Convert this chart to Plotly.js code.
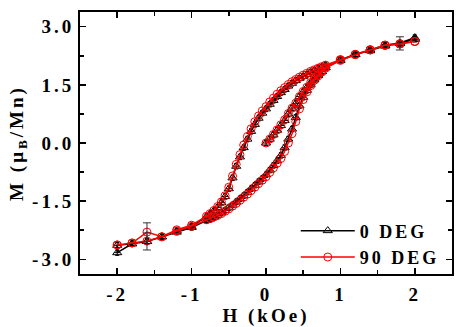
<!DOCTYPE html>
<html>
<head>
<meta charset="utf-8">
<script src="https://cdn.plot.ly/plotly-3.0.1.min.js"></script>
<style>
  body { margin: 0; background: #fff; }
  #plot { width: 463px; height: 327px; }
  .xtick text, .ytick text, .xtitle, .ytitle, .legendtext { letter-spacing: 3px; }
</style>
</head>
<body>
<div id="plot"></div>
<script>
// field values (kOe) for each branch of the loop
const hVirgin = [0, 0.05, 0.1, 0.15, 0.2, 0.25, 0.3, 0.35, 0.4, 0.45, 0.5, 0.55, 0.6, 0.65, 0.7, 0.75, 0.8,
  1.0, 1.2, 1.4, 1.6, 1.8, 2.0];
const hDown = [2.0, 1.8, 1.6, 1.4, 1.2, 1.0,
  0.8, 0.75, 0.7, 0.65, 0.6, 0.55, 0.5, 0.45, 0.4, 0.35, 0.3, 0.25, 0.2, 0.15, 0.1, 0.05, 0,
  -0.05, -0.1, -0.15, -0.2, -0.25, -0.3, -0.35, -0.4, -0.45, -0.5, -0.55, -0.6, -0.65, -0.7, -0.75, -0.8,
  -1.0, -1.2, -1.4, -1.6, -1.8, -2.0];
const hUp = [-2.0, -1.8, -1.6, -1.4, -1.2, -1.0,
  -0.8, -0.75, -0.7, -0.65, -0.6, -0.55, -0.5, -0.45, -0.4, -0.35, -0.3, -0.25, -0.2, -0.15, -0.1, -0.05, 0,
  0.05, 0.1, 0.15, 0.2, 0.25, 0.3, 0.35, 0.4, 0.45, 0.5, 0.55, 0.6, 0.65, 0.7, 0.75, 0.8,
  1.0, 1.2, 1.4, 1.6, 1.8, 2.0];

// magnetisation (muB/Mn), 0 DEG
const m0Virgin = [0.00, 0.10, 0.21, 0.33, 0.45, 0.58, 0.75, 0.90, 1.02, 1.20, 1.32, 1.43, 1.55, 1.66, 1.76, 1.85, 1.95,
  2.14, 2.29, 2.40, 2.52, 2.57, 2.68];
const m0Down = [2.68, 2.57, 2.50, 2.38, 2.28, 2.13,
  2.00, 1.96, 1.92, 1.87, 1.83, 1.77, 1.72, 1.67, 1.61, 1.54, 1.47, 1.38, 1.30, 1.20, 1.10, 1.00, 0.88,
  0.77, 0.64, 0.48, 0.30, 0.10, -0.12, -0.36, -0.60, -0.90, -1.18, -1.38, -1.54, -1.66, -1.75, -1.83, -1.90,
  -2.15, -2.27, -2.42, -2.54, -2.60, -2.83];
const m0Up = [-2.64, -2.60, -2.54, -2.42, -2.30, -2.18,
  -2.00, -1.96, -1.91, -1.86, -1.80, -1.74, -1.67, -1.60, -1.52, -1.44, -1.36, -1.27, -1.18, -1.09, -1.00, -0.92, -0.82,
  -0.70, -0.58, -0.46, -0.32, -0.12, 0.10, 0.36, 0.66, 0.96, 1.18, 1.36, 1.50, 1.63, 1.74, 1.84, 1.94,
  2.14, 2.29, 2.40, 2.52, 2.58, 2.72];

// magnetisation (muB/Mn), 90 DEG
const m90Virgin = [0.00, 0.10, 0.22, 0.34, 0.47, 0.60, 0.76, 0.90, 1.03, 1.20, 1.33, 1.44, 1.56, 1.67, 1.77, 1.86, 1.96,
  2.15, 2.28, 2.41, 2.53, 2.56, 2.62];
const m90Down = [2.62, 2.56, 2.52, 2.40, 2.29, 2.15,
  2.01, 1.97, 1.93, 1.89, 1.85, 1.80, 1.75, 1.70, 1.64, 1.58, 1.51, 1.43, 1.35, 1.26, 1.16, 1.06, 0.94,
  0.83, 0.70, 0.55, 0.37, 0.17, -0.05, -0.30, -0.55, -0.85, -1.14, -1.36, -1.52, -1.64, -1.74, -1.82, -1.89,
  -2.12, -2.24, -2.42, -2.30, -2.58, -2.63];
const m90Up = [-2.63, -2.58, -2.53, -2.42, -2.27, -2.15,
  -1.98, -1.95, -1.91, -1.87, -1.82, -1.76, -1.70, -1.63, -1.56, -1.48, -1.40, -1.32, -1.23, -1.14, -1.05, -0.96, -0.87,
  -0.76, -0.64, -0.52, -0.40, -0.22, 0.00, 0.24, 0.55, 0.88, 1.12, 1.32, 1.48, 1.62, 1.73, 1.83, 1.93,
  2.13, 2.28, 2.40, 2.52, 2.55, 2.62];

// the few large error bars
const errH = [-1.6, -1.6, 1.8];
const errM = [-2.30, -2.54, 2.57];
const errSize = [0.24, 0.22, 0.17];

const xTickVals = [-2, -1, 0, 1, 2];
const xTickText = ["-2", "-1", "0", "1", "2"];
const yTickVals = [-3, -1.5, 0, 1.5, 3];
const yTickText = ["-3.0", "-1.5", "0.0", "1.5", "3.0"];

const hAll = hVirgin.concat(hDown, hUp);
const serif = "Liberation Serif, Times New Roman, serif";

var data = [{
    x: hAll,
    y: m0Virgin.concat(m0Down, m0Up),
    name: "0 DEG",
    mode: "lines+markers",
    type: "scatter",
    line: { color: "#000", width: 1.5 },
    marker: { symbol: "triangle-up-open", size: 8, color: "#000", line: { width: 1 } },
    error_y: { type: "constant", value: 0.07, color: "#000", thickness: 1, width: 2 },
    error_x: { type: "constant", value: 0.04, color: "#000", thickness: 1, width: 0 }
}, {
    x: hAll,
    y: m90Virgin.concat(m90Down, m90Up),
    name: "90 DEG",
    mode: "lines+markers",
    type: "scatter",
    line: { color: "#ff0000", width: 1.5 },
    marker: { symbol: "circle-open", size: 8, color: "#ff0000", line: { width: 1 } }
}, {
    x: errH,
    y: errM,
    mode: "markers",
    type: "scatter",
    showlegend: false,
    hoverinfo: "skip",
    marker: { size: 1, color: "rgba(0,0,0,0)" },
    error_y: { type: "data", array: errSize, color: "#333", thickness: 1, width: 4 }
}];

function axis(range, vals, text, minorStep, title) {
    return {
        range: range,
        tickmode: "array",
        tickvals: vals,
        ticktext: text,
        ticks: "inside",
        ticklen: 6,
        tickwidth: 1.5,
        tickcolor: "#000",
        minor: { tickmode: "linear", tick0: 0, dtick: minorStep, ticks: "inside", ticklen: 4, tickwidth: 1.5, tickcolor: "#000" },
        showline: true,
        linewidth: 2,
        linecolor: "#000",
        mirror: "allticks",
        showgrid: false,
        zeroline: false,
        tickfont: { family: serif, size: 19, weight: "bold", color: "#000" },
        title: { text: title, font: { family: serif, size: 19, weight: "bold", color: "#000" } }
    };
}

var layout = {
    width: 463,
    height: 327,
    margin: { l: 80, r: 11, t: 12, b: 53 },
    paper_bgcolor: "#fff",
    plot_bgcolor: "#fff",
    showlegend: true,
    xaxis: axis([-2.5, 2.5], xTickVals, xTickText, 0.5, "H (kOe)"),
    yaxis: axis([-3.38, 3.38], yTickVals, yTickText, 0.75, "M (μ<sub>B</sub>/Mn)"),
    legend: {
        x: 0.58, y: 0.235, xanchor: "left", yanchor: "top",
        itemwidth: 54,
        bgcolor: "rgba(0,0,0,0)",
        font: { family: serif, size: 18, weight: "bold", color: "#000" }
    }
};
layout.xaxis.ticklabelstandoff = 2;
layout.xaxis.title.standoff = 2;

Plotly.newPlot("plot", data, layout, { displayModeBar: false, staticPlot: true });
</script>
</body>
</html>
